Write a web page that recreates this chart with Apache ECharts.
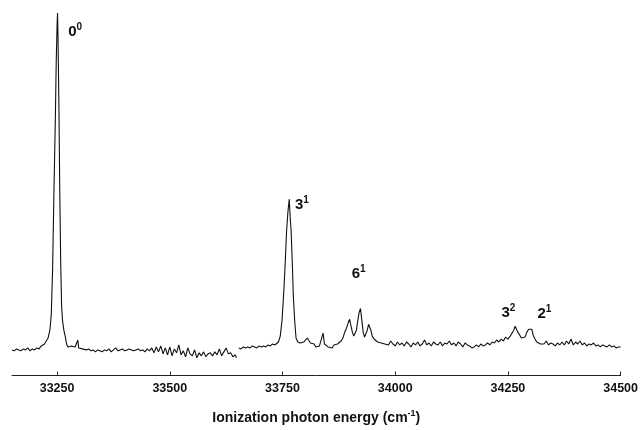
<!DOCTYPE html>
<html>
<head>
<meta charset="utf-8">
<style>
html, body { margin: 0; padding: 0; background: #fff; }
#chart { width: 641px; height: 430px; }
</style>
</head>
<body>
<div id="chart"></div>
<script src="https://cdn.jsdelivr.net/npm/echarts@6/dist/echarts.min.js"></script>
<script>
// scan 1 (ends before the gap near 33650 cm-1)
var wn1 = [33150,33155,33160,33165,33170,33175,33180,33185,33190,33195,33200,33205,33210,33215,33218,33222,33226,33230,33234,33237,33240,33243,33246,33248,33250,33251,33252,33254,33256,33258,33260,33262,33265,33268,33271,33274,33278,33282,33286,33290,33294,33296,33298,33302,33306,33310,33315,33320,33325,33330,33335,33340,33345,33350,33355,33360,33365,33370,33375,33380,33385,33390,33395,33400,33405,33410,33415,33420,33425,33430,33435,33440,33445,33450,33455,33460,33465,33470,33475,33480,33485,33490,33495,33500,33505,33510,33515,33520,33525,33530,33535,33540,33545,33550,33555,33560,33565,33570,33575,33580,33585,33590,33595,33600,33605,33610,33615,33620,33625,33630,33635,33640,33645,33648];
var int1 = [0,-1,1,0,-1,1,0,2,-1,1,0,2,1,4,2,6,7,12,20,35,80,160,230,290,330,342,320,250,160,90,45,30,20,14,6,3,1,4,2,3,1,10,2,3,1,2,0,1,-1,0,-2,0,-1,-2,0,-1,1,-2,0,2,-1,0,1,-1,0,1,0,-1,0,1,-1,0,-2,1,-1,2,-3,3,-2,4,-4,2,-5,3,-6,1,-3,5,-5,-1,-7,2,-4,-6,0,-8,-3,-6,-2,-7,-4,-3,-6,-2,-5,1,-6,-2,2,-4,-3,-7,-5,-8];

// scan 2
var wn2 = [33653,33658,33663,33668,33673,33678,33683,33688,33693,33698,33703,33708,33713,33718,33723,33728,33733,33737,33741,33745,33749,33753,33756,33759,33762,33765,33767,33769,33772,33774,33777,33780,33784,33789,33793,33797,33801,33805,33808,33812,33816,33820,33824,33828,33832,33836,33840,33843,33847,33851,33855,33860,33864,33868,33872,33876,33880,33884,33888,33892,33896,33899,33902,33905,33908,33911,33914,33917,33920,33923,33926,33929,33932,33935,33938,33941,33943,33946,33949,33953,33957,33961,33965,33969,33973,33977,33981,33985,33990,33995,34000,34005,34010,34015,34020,34025,34030,34035,34040,34045,34050,34055,34060,34065,34070,34075,34080,34085,34090,34095,34100,34105,34110,34115,34120,34125,34130,34135,34140,34145,34150,34155,34160,34165,34170,34175,34180,34185,34190,34195,34200,34205,34210,34215,34220,34225,34230,34235,34240,34245,34250,34255,34259,34263,34266,34269,34272,34276,34280,34284,34288,34292,34296,34300,34303,34306,34310,34314,34318,34322,34326,34330,34335,34340,34345,34350,34355,34360,34365,34370,34375,34380,34385,34390,34395,34400,34405,34410,34415,34420,34425,34430,34435,34440,34445,34450,34455,34460,34465,34470,34475,34480,34485,34490,34495,34500];
var int2 = [2,1,3,2,3,2,4,3,2,4,3,4,3,5,4,6,5,7,8,14,30,60,88,120,140,153,135,122,85,55,30,12,8,7,5,8,6,12,10,7,5,6,3,5,4,6,17,6,4,3,4,2,5,4,6,7,9,12,18,22,28,31,24,18,14,13,20,30,38,42,30,18,13,15,20,26,28,20,14,11,12,8,10,7,9,6,8,5,9,6,4,8,5,7,4,8,6,3,7,5,8,4,6,10,5,7,4,8,6,5,8,4,7,6,9,5,7,4,8,6,3,7,5,4,2,3,5,3,6,4,5,7,5,8,7,10,8,11,9,13,11,14,16,20,24,25,18,16,12,11,13,18,21,22,21,15,11,8,9,6,8,6,9,5,7,6,4,7,5,8,5,9,6,11,5,8,6,9,5,7,4,6,5,7,4,5,3,5,4,3,5,3,4,2,3,3];

var tickValues = [33250, 33500, 33750, 34000, 34250, 34500];

// band assignments
var bandMain = ['0', '3', '6', '3', '2'];
var bandSup = ['0', '1', '1', '2', '1'];
var bandWn = [33290, 33793, 33919, 34251, 34331];
var bandInt = [323, 147, 77, 38, 37];

function pairs(xs, ys) {
	return xs.map(function (x, i) { return [x, ys[i]]; });
}

var font = '"Liberation Sans", Arial, sans-serif';

var marks = bandMain.map(function (m, i) {
	return {
		coord: [bandWn[i], bandInt[i]],
		value: '{b|' + m + '}{s|' + bandSup[i] + '}'
	};
});

var myChart = echarts.init(document.getElementById('chart'));
var option = {
	backgroundColor: '#fff',
	animation: false,
	grid: { left: 12, right: 16, top: 10, bottom: 49 },
	xAxis: {
		type: 'value',
		min: 33150,
		max: 34500,
		axisLine: { show: true, onZero: false, lineStyle: { color: '#222', width: 1 } },
		axisTick: { show: true, inside: true, length: 4, customValues: tickValues, lineStyle: { color: '#222' } },
		axisLabel: {
			customValues: tickValues,
			formatter: function (v) { return String(v); },
			margin: 7,
			color: '#111',
			fontSize: 12.5,
			fontWeight: 'bold',
			fontFamily: font
		},
		splitLine: { show: false },
		name: '{a|Ionization photon energy (cm}{s|-1}{a|)}',
		nameLocation: 'middle',
		nameGap: 34,
		nameTextStyle: {
			rich: {
				a: { fontSize: 14, fontWeight: 'bold', color: '#111', fontFamily: font },
				s: { fontSize: 9, fontWeight: 'bold', color: '#111', fontFamily: font, padding: [0, 0, 8, 0] }
			}
		}
	},
	yAxis: {
		type: 'value',
		min: -26,
		max: 345,
		show: false
	},
	series: [{
		type: 'line',
		data: pairs(wn1, int1),
		showSymbol: false,
		lineStyle: { color: '#111', width: 1.1 },
		markPoint: {
			symbol: 'circle',
			symbolSize: 0,
			label: {
				show: true,
				position: 'inside',
				formatter: function (p) { return p.value; },
				rich: {
					b: { fontSize: 15, fontWeight: 'bold', color: '#111', fontFamily: font },
					s: { fontSize: 10, fontWeight: 'bold', color: '#111', fontFamily: font, padding: [0, 0, 9, 0] }
				}
			},
			data: marks
		}
	}, {
		type: 'line',
		data: pairs(wn2, int2),
		showSymbol: false,
		lineStyle: { color: '#111', width: 1.1 }
	}]
};
myChart.setOption(option);
</script>
</body>
</html>
